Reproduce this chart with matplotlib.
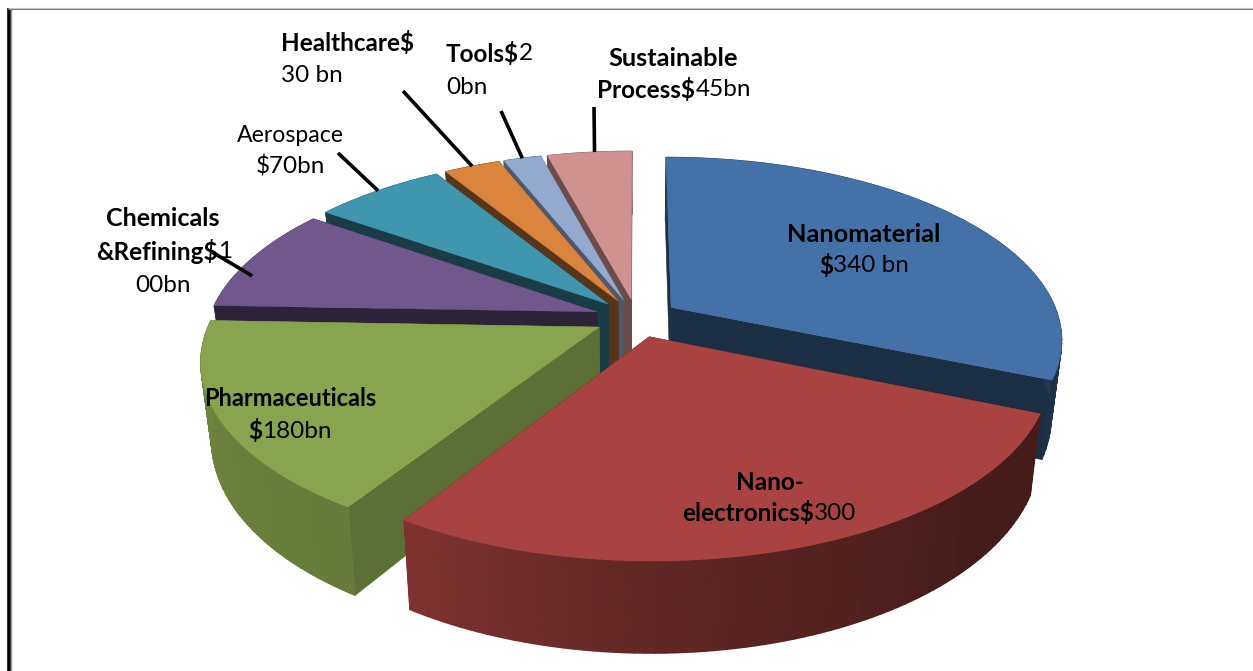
import numpy as np
import matplotlib
matplotlib.use("Agg")
import matplotlib.pyplot as plt
from matplotlib.colors import LinearSegmentedColormap

categories = ["Nanomaterial", "Nano-electronics", "Pharmaceuticals", "Chemicals & Refining",
              "Aerospace", "Healthcare", "Tools", "Sustainable Process"]
values = [340, 300, 180, 100, 70, 30, 20, 45]
top_colors = ["#4472A8", "#A84341", "#88A44E", "#70588F", "#3F96AE", "#DA843D", "#93A9CF", "#D09291"]
draw_order = [7, 6, 5, 4, 3, 0, 2, 1]

W, H = 1253, 671
fig = plt.figure(figsize=(W / 100, H / 100), dpi=100, facecolor="white")
ax = fig.add_axes([0, 0, 1, 1])
ax.set_xlim(0, W)
ax.set_ylim(H, 0)
ax.axis("off")

# pie projection (tilted disk with perspective)
CX, CY, RX, RY, PERSP, DEPTH, SHRINK, EXPLODE = 636.5, 318, 388, 179, 0.17, 75, 0.025, 0.108

vals = np.array(values, float)
sweeps = vals / vals.sum() * 360
starts = np.concatenate([[0], np.cumsum(sweeps)[:-1]])
mids = starts + sweeps / 2


def project(angle, r, mid, z):
    a, m = np.radians(angle), np.radians(mid)
    u = EXPLODE * np.sin(m) + r * np.sin(a)
    v = EXPLODE * np.cos(m) + r * np.cos(a)
    s = 1 / (1 + PERSP * v)
    k = 1 - SHRINK * z
    return CX + RX * u * s * k, CY - RY * v * s + DEPTH * z * s


def shade(color, f):
    return tuple(np.array(matplotlib.colors.to_rgb(color)) * f)


def wall_factor(angle):
    return np.interp(angle, [0, 90, 113, 135, 180, 212, 272, 360],
                     [0.5, 0.5, 0.42, 0.42, 0.58, 0.75, 0.82, 0.6])


def radial_wall(a, mid, col):
    ax0, ay0 = project(a, 0, mid, 0)
    ax1, ay1 = project(a, 1, mid, 0)
    bx0, by0 = project(a, 0, mid, 1)
    bx1, by1 = project(a, 1, mid, 1)
    ax.fill([ax0, ax1, bx1, bx0], [ay0, ay1, by1, by0], color=col, lw=0.4)


def outer_wall(a0, a1, mid, col):
    arc = np.linspace(a0, a1, 80)
    xt, yt = project(arc, 1, mid, 0)
    xb, yb = project(arc, 1, mid, 1)
    cmap = LinearSegmentedColormap.from_list("w", ["black", col])
    ax.pcolormesh(np.vstack([xt, xb]), np.vstack([yt, yb]),
                  np.vstack([wall_factor(arc), wall_factor(arc)]),
                  shading="gouraud", cmap=cmap, vmin=0, vmax=1)


for i in draw_order:
    a0, a1, m, c = starts[i], starts[i] + sweeps[i], mids[i], top_colors[i]
    wf = 0.40 if i in (0, 3, 4, 5) else 0.68 if i in (2,) else 0.52
    if m > 270:
        outer_wall(a0, a1, m, c)
    radial_wall(a1, m, shade(c, wf))
    radial_wall(a0, m, shade(c, wf))
    if m <= 270:
        outer_wall(a0, a1, m, c)
    arc = np.linspace(a0, a1, 120)
    x, y = project(arc, 1, m, 0)
    x0, y0 = project(a0, 0, m, 0)
    ax.fill(np.r_[x0, x], np.r_[y0, y], color=c, lw=0.3)

# frame
ax.plot([8.5, 8.5], [8, H], color="black", lw=2.6, solid_capstyle="butt")
ax.plot([11, 11], [8, H], color="#999999", lw=1.0, solid_capstyle="butt")
ax.plot([8, W], [7.5, 7.5], color="#c8c8c8", lw=0.8, solid_capstyle="butt")
ax.plot([8, W], [8.6, 8.6], color="#808080", lw=0.8, solid_capstyle="butt")

# leader lines: from the label to the rim of its slice
leaders = [(338, 153, 4, 0, 1.0), (403, 91, 5, 0, 1.0), (501, 111, 6, 0, 1.0),
           (594, 107, 7, 0.9, 1.0), (212, 252, 3, -5.9, 0.953)]
for sx, sy, idx, da, r in leaders:
    ex, ey = project(mids[idx] + da, r, mids[idx], 0)
    ax.plot([sx, ex], [sy, ey], color="black", lw=2.6, solid_capstyle="butt", zorder=5)

# labels: each line is a list of (text, bold) runs
renderer = fig.canvas.get_renderer()
FONT = "Lato"


def line(runs, x, y, anchor="center", size=17.5):
    items = [ax.text(0, y, t, fontsize=size, family=FONT, fontweight="bold" if b else "normal",
                     color="black", va="center", ha="left", zorder=6) for t, b in runs]
    widths = [it.get_window_extent(renderer).width for it in items]
    cursor = x - sum(widths) / 2 if anchor == "center" else x
    for it, w in zip(items, widths):
        it.set_x(cursor)
        cursor += w


line([("Nanomaterial", True)], 864, 234, size=18.3)
line([("$", True), ("340 bn", False)], 864, 266)
line([("Nano-", True)], 770, 482)
line([("electronics$", True), ("300", False)], 769, 513)
line([("Pharmaceuticals", True)], 290, 399, size=17)
line([("$", True), ("180bn", False)], 290, 431)
line([("Chemicals", True)], 163, 219, size=18)
line([("&Refining$", True), ("1", False)], 164, 252)
line([("00bn", False)], 163, 285)
line([("Aerospace", False)], 290, 135, size=16.6)
line([("$70bn", False)], 290, 167)
line([("Healthcare$", True)], 281, 43, "left")
line([("30 bn", False)], 281, 75, "left")
line([("Tools$", True), ("2", False)], 446, 54, "left")
line([("0bn", False)], 446, 87, "left")
line([("Sustainable", True)], 673, 58, size=18.3)
line([("Process$", True), ("45bn", False)], 674, 90)

fig.savefig("out.png", dpi=100, facecolor="white")
